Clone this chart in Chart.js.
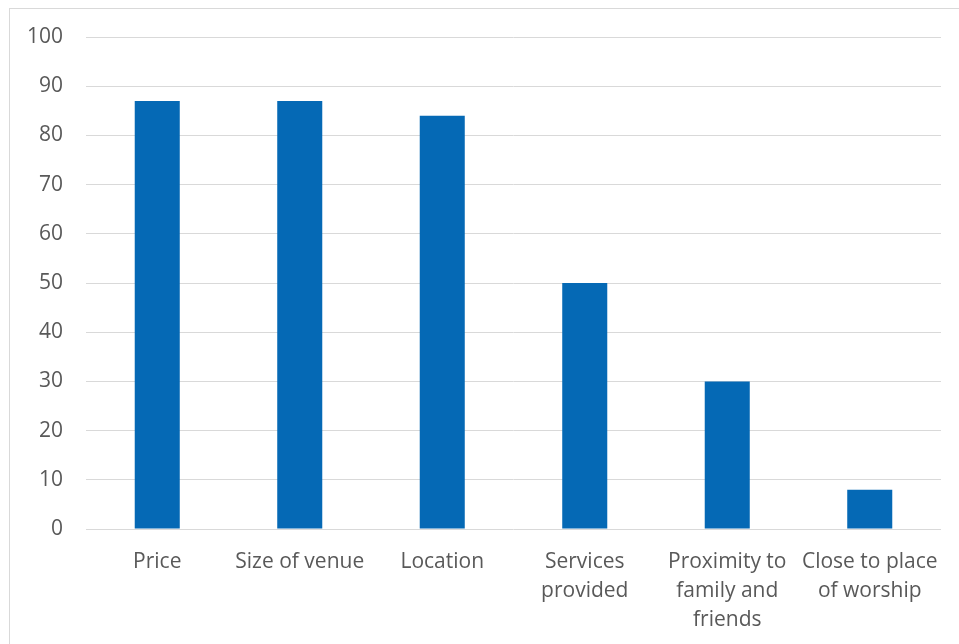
<!DOCTYPE html>
<html>
<head>
<meta charset="utf-8">
<script src="https://cdn.jsdelivr.net/npm/chart.js@4.4.1/dist/chart.umd.min.js"></script>
<style>
  html, body { margin: 0; padding: 0; background: #fff; overflow: hidden; }
  #frame {
    position: absolute; left: 9px; top: 8px; width: 970px; height: 700px;
    border: 1px solid #d9d9d9; box-sizing: border-box;
  }
  #wrap { position: absolute; left: 0; top: 0; width: 959px; height: 644px; }
</style>
</head>
<body>
<div id="frame"></div>
<div id="wrap"><canvas id="importanceChart"></canvas></div>
<script>
// Reference data
const categories = [
    'Price',
    'Size of venue',
    'Location',
    ['Services', 'provided'],
    ['Proximity to', 'family and', 'friends'],
    ['Close to place', 'of worship']
];
const values = [87, 87, 84, 50, 30, 8];
const yTicks = [0, 10, 20, 30, 40, 50, 60, 70, 80, 90, 100];

function initializeChart() {
    const ctx = document.getElementById('importanceChart').getContext('2d');
    new Chart(ctx, {
        type: 'bar',
        data: {
            labels: categories,
            datasets: [{
                data: values,
                backgroundColor: '#0569b5',
                barPercentage: 0.316,
                categoryPercentage: 1.0
            }]
        },
        options: {
            responsive: true,
            maintainAspectRatio: false,
            animation: false,
            layout: {
                padding: { left: 0, top: 37, right: 18, bottom: 0 }
            },
            plugins: {
                legend: { display: false },
                tooltip: { enabled: false }
            },
            scales: {
                x: {
                    grid: { display: false },
                    border: { display: false },
                    ticks: {
                        color: '#595959',
                        font: { family: 'Open Sans', size: 21, lineHeight: 1.4 },
                        padding: 10,
                        maxRotation: 0,
                        autoSkip: false
                    },
                    afterFit: (scale) => { scale.height = 644 - 529; }
                },
                y: {
                    min: 0,
                    max: 100,
                    afterBuildTicks: (scale) => {
                        scale.ticks = yTicks.map(v => ({ value: v }));
                    },
                    grid: { color: '#d9d9d9', lineWidth: 1, drawTicks: false },
                    border: { display: false },
                    ticks: {
                        color: '#595959',
                        font: { family: 'Open Sans', size: 21 },
                        padding: 23
                    },
                    afterFit: (scale) => { scale.width = 86; }
                }
            }
        }
    });
}

document.addEventListener('DOMContentLoaded', initializeChart);
</script>
</body>
</html>
